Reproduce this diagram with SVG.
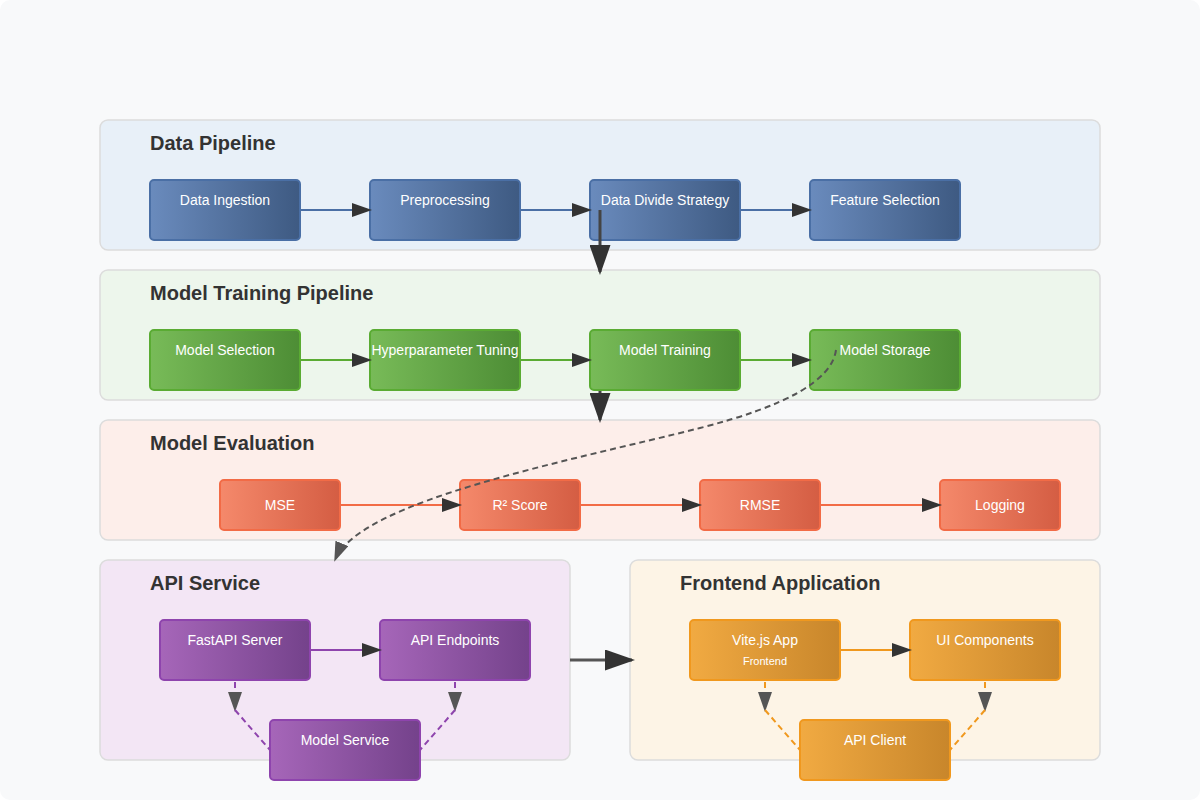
<svg xmlns="http://www.w3.org/2000/svg" width="1200" height="800" viewBox="0 0 1200 800">
<defs>
<linearGradient id="gBlue" x1="0" y1="0" x2="1" y2="0"><stop offset="0" stop-color="#6a8bbd"/><stop offset="1" stop-color="#3e5a82"/></linearGradient>
<linearGradient id="gGreen" x1="0" y1="0" x2="1" y2="0"><stop offset="0" stop-color="#78bb58"/><stop offset="1" stop-color="#4d8d35"/></linearGradient>
<linearGradient id="gRed" x1="0" y1="0" x2="1" y2="0"><stop offset="0" stop-color="#f5896b"/><stop offset="1" stop-color="#d45d43"/></linearGradient>
<linearGradient id="gPurple" x1="0" y1="0" x2="1" y2="0"><stop offset="0" stop-color="#a666b9"/><stop offset="1" stop-color="#74428b"/></linearGradient>
<linearGradient id="gOrange" x1="0" y1="0" x2="1" y2="0"><stop offset="0" stop-color="#f1aa42"/><stop offset="1" stop-color="#c8862b"/></linearGradient>
<marker id="arrow" markerWidth="10" markerHeight="7" refX="9" refY="3.5" orient="auto" markerUnits="strokeWidth"><polygon points="0 0, 10 3.5, 0 7" fill="#333"/></marker>
<marker id="arrowGray" markerWidth="10" markerHeight="7" refX="9" refY="3.5" orient="auto" markerUnits="strokeWidth"><polygon points="0 0, 10 3.5, 0 7" fill="#555"/></marker>
<style>
.section{stroke:#dcdcdc;stroke-width:1.5}
.title{font-family:"Liberation Sans",Arial,Helvetica,sans-serif;font-size:20px;font-weight:bold;fill:#333}
.label{font-family:"Liberation Sans",Arial,Helvetica,sans-serif;font-size:14px;fill:#fff;text-anchor:middle}
.sub{font-family:"Liberation Sans",Arial,Helvetica,sans-serif;font-size:11px;fill:#fff;text-anchor:middle}
.nBlue{fill:url(#gBlue);stroke:#4a6fa5;stroke-width:2}
.nGreen{fill:url(#gGreen);stroke:#5aab33;stroke-width:2}
.nRed{fill:url(#gRed);stroke:#f26b46;stroke-width:2}
.nPurple{fill:url(#gPurple);stroke:#8e44ad;stroke-width:2}
.nOrange{fill:url(#gOrange);stroke:#f0981e;stroke-width:2}
.c{fill:none;stroke-width:2}
.big{fill:none;stroke-width:3}
.dash{fill:none;stroke-width:2;stroke-dasharray:6,4}
</style>
</defs>
<rect x="0" y="0" width="1200" height="800" fill="#ffffff"/>
<rect x="0" y="0" width="1200" height="800" rx="10" fill="#f8f9fa"/>

<g id="sections">
<rect class="section" x="100" y="120" width="1000" height="130" rx="8" fill="#e8f0f8"/>
<text class="title" x="150" y="150">Data Pipeline</text>
<rect class="section" x="100" y="270" width="1000" height="130" rx="8" fill="#edf6ec"/>
<text class="title" x="150" y="300">Model Training Pipeline</text>
<rect class="section" x="100" y="420" width="1000" height="120" rx="8" fill="#fdeeea"/>
<text class="title" x="150" y="450">Model Evaluation</text>
<rect class="section" x="100" y="560" width="470" height="200" rx="8" fill="#f3e6f5"/>
<text class="title" x="150" y="590">API Service</text>
<rect class="section" x="630" y="560" width="470" height="200" rx="8" fill="#fdf4e6"/>
<text class="title" x="680" y="590">Frontend Application</text>
</g>

<g id="data-ingestion"><rect class="nBlue" x="150" y="180" width="150" height="60" rx="4"/><text class="label" x="225" y="205">Data Ingestion</text></g>
<g id="preprocessing"><rect class="nBlue" x="370" y="180" width="150" height="60" rx="4"/><text class="label" x="445" y="205">Preprocessing</text></g>
<g id="data-divide"><rect class="nBlue" x="590" y="180" width="150" height="60" rx="4"/><text class="label" x="665" y="205">Data Divide Strategy</text></g>
<g id="feature-selection"><rect class="nBlue" x="810" y="180" width="150" height="60" rx="4"/><text class="label" x="885" y="205">Feature Selection</text></g>

<g id="model-selection"><rect class="nGreen" x="150" y="330" width="150" height="60" rx="4"/><text class="label" x="225" y="355">Model Selection</text></g>
<g id="hyperparameter-tuning"><rect class="nGreen" x="370" y="330" width="150" height="60" rx="4"/><text class="label" x="445" y="355">Hyperparameter Tuning</text></g>
<g id="model-training"><rect class="nGreen" x="590" y="330" width="150" height="60" rx="4"/><text class="label" x="665" y="355">Model Training</text></g>
<g id="model-storage"><rect class="nGreen" x="810" y="330" width="150" height="60" rx="4"/><text class="label" x="885" y="355">Model Storage</text></g>

<g id="mse"><rect class="nRed" x="220" y="480" width="120" height="50" rx="4"/><text class="label" x="280" y="510">MSE</text></g>
<g id="r2"><rect class="nRed" x="460" y="480" width="120" height="50" rx="4"/><text class="label" x="520" y="510">R² Score</text></g>
<g id="rmse"><rect class="nRed" x="700" y="480" width="120" height="50" rx="4"/><text class="label" x="760" y="510">RMSE</text></g>
<g id="logging"><rect class="nRed" x="940" y="480" width="120" height="50" rx="4"/><text class="label" x="1000" y="510">Logging</text></g>

<g id="fastapi-server"><rect class="nPurple" x="160" y="620" width="150" height="60" rx="4"/><text class="label" x="235" y="645">FastAPI Server</text></g>
<g id="api-endpoints"><rect class="nPurple" x="380" y="620" width="150" height="60" rx="4"/><text class="label" x="455" y="645">API Endpoints</text></g>
<g id="model-service"><rect class="nPurple" x="270" y="720" width="150" height="60" rx="4"/><text class="label" x="345" y="745">Model Service</text></g>

<g id="vite-app"><rect class="nOrange" x="690" y="620" width="150" height="60" rx="4"/><text class="label" x="765" y="645">Vite.js App</text><text class="sub" x="765" y="665">Frontend</text></g>
<g id="ui-components"><rect class="nOrange" x="910" y="620" width="150" height="60" rx="4"/><text class="label" x="985" y="645">UI Components</text></g>
<g id="api-client"><rect class="nOrange" x="800" y="720" width="150" height="60" rx="4"/><text class="label" x="875" y="745">API Client</text></g>

<g id="connectors">
<line class="c" x1="300" y1="210" x2="370" y2="210" stroke="#4a6fa5" marker-end="url(#arrow)"/>
<line class="c" x1="520" y1="210" x2="590" y2="210" stroke="#4a6fa5" marker-end="url(#arrow)"/>
<line class="c" x1="740" y1="210" x2="810" y2="210" stroke="#4a6fa5" marker-end="url(#arrow)"/>
<line class="c" x1="300" y1="360" x2="370" y2="360" stroke="#5aab33" marker-end="url(#arrow)"/>
<line class="c" x1="520" y1="360" x2="590" y2="360" stroke="#5aab33" marker-end="url(#arrow)"/>
<line class="c" x1="740" y1="360" x2="810" y2="360" stroke="#5aab33" marker-end="url(#arrow)"/>
<line class="c" x1="340" y1="505" x2="460" y2="505" stroke="#f26b46" marker-end="url(#arrow)"/>
<line class="c" x1="580" y1="505" x2="700" y2="505" stroke="#f26b46" marker-end="url(#arrow)"/>
<line class="c" x1="820" y1="505" x2="940" y2="505" stroke="#f26b46" marker-end="url(#arrow)"/>
<line class="c" x1="310" y1="650" x2="380" y2="650" stroke="#8e44ad" marker-end="url(#arrow)"/>
<line class="c" x1="840" y1="650" x2="910" y2="650" stroke="#f0981e" marker-end="url(#arrow)"/>
<line class="big" x1="600" y1="210" x2="600" y2="272" stroke="#444" marker-end="url(#arrow)"/>
<line class="big" x1="600" y1="391" x2="600" y2="420" stroke="#444" marker-end="url(#arrow)"/>
<line class="big" x1="570" y1="660" x2="632" y2="660" stroke="#555" marker-end="url(#arrow)"/>
<path class="dash" d="M 836 350 Q 830 395 700 428 C 570 461 360 500 335 560" stroke="#555" marker-end="url(#arrowGray)"/>
<line class="dash" x1="235" y1="682" x2="235" y2="710" stroke="#8e44ad" marker-end="url(#arrowGray)"/>
<line class="dash" x1="235" y1="710" x2="270" y2="750" stroke="#8e44ad"/>
<line class="dash" x1="455" y1="682" x2="455" y2="710" stroke="#8e44ad" marker-end="url(#arrowGray)"/>
<line class="dash" x1="455" y1="710" x2="420" y2="750" stroke="#8e44ad"/>
<line class="dash" x1="765" y1="682" x2="765" y2="710" stroke="#f0981e" marker-end="url(#arrowGray)"/>
<line class="dash" x1="765" y1="710" x2="800" y2="750" stroke="#f0981e"/>
<line class="dash" x1="985" y1="682" x2="985" y2="710" stroke="#f0981e" marker-end="url(#arrowGray)"/>
<line class="dash" x1="985" y1="710" x2="950" y2="750" stroke="#f0981e"/>
</g>
</svg>
